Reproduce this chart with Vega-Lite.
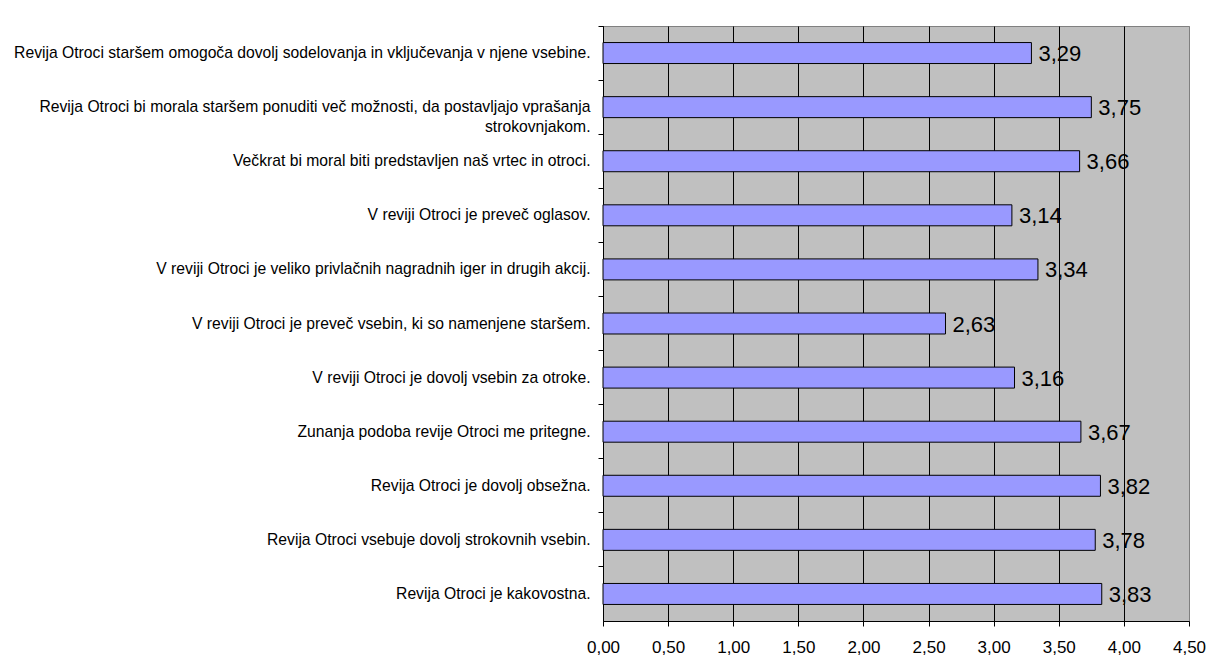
{
  "$schema": "https://vega.github.io/schema/vega-lite/v6.json",
  "width": 586,
  "height": 595,
  "autosize": "none",
  "padding": {"left": 603, "top": 26, "right": 18, "bottom": 50},
  "background": "white",
  "config": {
    "locale": {"number": {"decimal": ",", "thousands": ".", "grouping": [3], "currency": ["", " €"]}},
    "view": {"stroke": "#808080", "fill": "#C0C0C0"},
    "font": "Liberation Sans"
  },
  "data": {
    "values": [
      {"item": "Revija Otroci staršem omogoča dovolj sodelovanja in vključevanja v njene vsebine.", "value": 3.29},
      {"item": ["Revija Otroci bi morala staršem ponuditi več možnosti, da postavljajo vprašanja", "strokovnjakom."], "value": 3.75},
      {"item": "Večkrat bi moral biti predstavljen naš vrtec in otroci.", "value": 3.66},
      {"item": "V reviji Otroci je preveč oglasov.", "value": 3.14},
      {"item": "V reviji Otroci je veliko privlačnih nagradnih iger in drugih akcij.", "value": 3.34},
      {"item": "V reviji Otroci je preveč vsebin, ki so namenjene staršem.", "value": 2.63},
      {"item": "V reviji Otroci je dovolj vsebin za otroke.", "value": 3.16},
      {"item": "Zunanja podoba revije Otroci me pritegne.", "value": 3.67},
      {"item": "Revija Otroci je dovolj obsežna.", "value": 3.82},
      {"item": "Revija Otroci vsebuje dovolj strokovnih vsebin.", "value": 3.78},
      {"item": "Revija Otroci je kakovostna.", "value": 3.83}
    ]
  },
  "encoding": {
    "y": {
      "field": "item",
      "type": "nominal",
      "sort": null,
      "scale": {"paddingInner": 0, "paddingOuter": 0},
      "axis": {
        "title": null,
        "bandPosition": 0,
        "tickSize": 5,
        "tickColor": "black",
        "domainColor": "black",
        "labelColor": "black",
        "labelFontSize": 15.7,
        "labelPadding": 8,
        "labelLimit": 700,
        "labelLineHeight": 20,
        "grid": false
      }
    },
    "x": {
      "field": "value",
      "type": "quantitative",
      "scale": {"domain": [0, 4.5], "nice": false, "zero": true},
      "axis": {
        "title": null,
        "values": [0, 0.5, 1, 1.5, 2, 2.5, 3, 3.5, 4, 4.5],
        "format": ".2f",
        "grid": true,
        "gridColor": {"condition": {"test": "datum.value === 4.5", "value": "#808080"}, "value": "black"},
        "gridOpacity": 1,
        "tickSize": 5,
        "tickColor": "black",
        "domainColor": "black",
        "labelColor": "black",
        "labelFontSize": 17,
        "labelPadding": 13,
        "labelFlush": false
      }
    }
  },
  "layer": [
    {
      "mark": {"type": "bar", "fill": "#9999FF", "stroke": "#000000", "strokeWidth": 1, "height": {"band": 0.388}}
    },
    {
      "mark": {"type": "text", "align": "left", "baseline": "middle", "dx": 7, "dy": 1, "fontSize": 22, "color": "black"},
      "encoding": {
        "text": {"field": "value", "type": "quantitative", "format": ".2f"}
      }
    }
  ]
}
